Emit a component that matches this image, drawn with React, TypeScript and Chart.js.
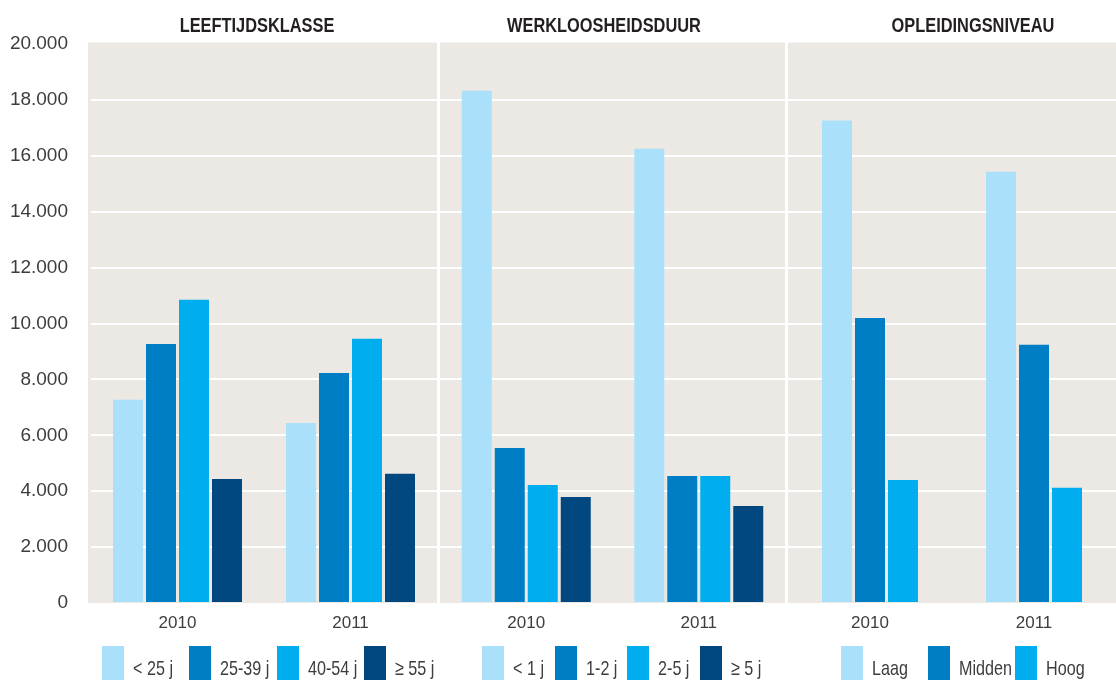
import React, { useEffect, useRef } from "react";
import { Chart, registerables } from "chart.js";

Chart.register(...registerables);

// ---------- data ----------
const years = ["2010", "2011"];
const panelTitles = ["LEEFTIJDSKLASSE", "WERKLOOSHEIDSDUUR", "OPLEIDINGSNIVEAU"];

const ageLabels = ["< 25 j", "25-39 j", "40-54 j", "≥ 55 j"];
const ageUnder25 = [7270, 6440];
const age25to39 = [9270, 8230];
const age40to54 = [10850, 9450];
const age55plus = [4440, 4620];

const durationLabels = ["< 1 j", "1-2 j", "2-5 j", "≥ 5 j"];
const durUnder1 = [18330, 16250];
const dur1to2 = [5550, 4540];
const dur2to5 = [4220, 4540];
const dur5plus = [3790, 3470];

const eduLabels = ["Laag", "Midden", "Hoog"];
const eduLow = [17260, 15430];
const eduMid = [10200, 9240];
const eduHigh = [4400, 4120];

const yMin = 0;
const yMax = 20000;
const yStep = 2000;

// ---------- styles ----------
const COLORS = ["#aae0fa", "#007ec5", "#00aeef", "#00487f"];
const PLOT_BG = "#ece9e4";
const TEXT = "#3d3d3d";
const FONT = '"Liberation Sans", Arial, sans-serif';

const H = 680;
const PLOT_TOP = 44;
const X_AXIS_H = 77;
const BAR_W = 30;
const BAR_GAP = 3;

const fmt = (v: number) => String(Math.round(v)).replace(/\B(?=(\d{3})+(?!\d))/g, ".");

const bgPlugin = {
  id: "plotBg",
  beforeDraw(chart: any, _args: any, opts: any) {
    const { ctx, chartArea } = chart;
    const extra = (opts && opts.extraLeft) || 0;
    ctx.save();
    ctx.fillStyle = PLOT_BG;
    ctx.fillRect(
      chartArea.left - extra,
      chartArea.top - 1.5,
      chartArea.right - chartArea.left + extra,
      chartArea.bottom - chartArea.top + 1.5
    );
    ctx.restore();
  },
};

type PanelProps = {
  left: number;
  width: number;
  axisWidth: number;
  showY: boolean;
  series: number[][];
  names: string[];
};

function Panel({ left, width, axisWidth, showY, series, names }: PanelProps) {
  const ref = useRef<HTMLCanvasElement | null>(null);
  useEffect(() => {
    const n = series.length;
    const catWidth = (width - axisWidth) / years.length;
    const chunk = BAR_W + BAR_GAP;
    const chart = new Chart(ref.current as HTMLCanvasElement, {
      type: "bar",
      data: {
        labels: years,
        datasets: series.map((d, i) => ({
          label: names[i],
          data: d,
          backgroundColor: COLORS[i],
          borderWidth: 0,
          categoryPercentage: (chunk * n) / catWidth,
          barPercentage: BAR_W / chunk,
        })),
      },
      options: {
        animation: false,
        responsive: true,
        maintainAspectRatio: false,
        layout: { padding: { top: PLOT_TOP, left: 0, right: 0, bottom: 0 } },
        plugins: {
          legend: { display: false },
          title: { display: false },
          tooltip: { enabled: false },
          plotBg: { extraLeft: showY ? 3 : 0 },
        } as any,
        scales: {
          x: {
            border: { display: false },
            grid: { display: false, drawTicks: false },
            ticks: {
              color: TEXT,
              font: { family: FONT, size: 17 },
              padding: 10,
            },
            afterFit: (s: any) => {
              s.height = X_AXIS_H;
            },
          },
          y: {
            min: yMin,
            max: yMax,
            border: { display: false },
            grid: {
              drawTicks: false,
              lineWidth: 2,
              color: (c: any) =>
                c.tick && (c.tick.value === yMin || c.tick.value === yMax)
                  ? "rgba(0,0,0,0)"
                  : "#ffffff",
            },
            ticks: {
              display: showY,
              stepSize: yStep,
              color: TEXT,
              font: { family: FONT, size: 19 },
              padding: 23,
              callback: (v: any) => fmt(Number(v)),
            },
            afterFit: (s: any) => {
              s.width = axisWidth;
            },
          },
        },
      },
      plugins: [bgPlugin],
    });
    return () => chart.destroy();
  }, []);
  return (
    <div style={{ position: "absolute", left, top: 0, width, height: H }}>
      <canvas ref={ref} />
    </div>
  );
}

type LegendProps = { labels: string[]; start: number; step: number };
function Legend({ labels, start, step }: LegendProps) {
  return (
    <>
      {labels.map((l, i) => (
        <div
          key={l}
          style={{ position: "absolute", left: start + i * step, top: 646, height: 40, whiteSpace: "nowrap" }}
        >
          <div style={{ position: "absolute", left: 0, top: 0, width: 22, height: 40, background: COLORS[i] }} />
          <div
            style={{
              position: "absolute",
              left: 31,
              top: 11,
              fontFamily: FONT,
              fontSize: 21,
              lineHeight: "21px",
              color: TEXT,
              transform: "scaleX(0.77)",
              transformOrigin: "0 50%",
            }}
          >
            {l}
          </div>
        </div>
      ))}
    </>
  );
}

const titleCenters = [257, 604, 973];

export default function App() {
  return (
    <div
      style={{
        position: "absolute",
        left: 0,
        top: 0,
        width: 1116,
        height: H,
        overflow: "hidden",
        background: "#ffffff",
      }}
    >
      <Panel
        left={0}
        width={437}
        axisWidth={91}
        showY={true}
        series={[ageUnder25, age25to39, age40to54, age55plus]}
        names={ageLabels}
      />
      <Panel
        left={440}
        width={345}
        axisWidth={0}
        showY={false}
        series={[durUnder1, dur1to2, dur2to5, dur5plus]}
        names={durationLabels}
      />
      <Panel
        left={788}
        width={328}
        axisWidth={0}
        showY={false}
        series={[eduLow, eduMid, eduHigh]}
        names={eduLabels}
      />
      {panelTitles.map((t, i) => (
        <div
          key={t}
          style={{
            position: "absolute",
            left: titleCenters[i] - 200,
            width: 400,
            top: 14,
            textAlign: "center",
            fontFamily: FONT,
            fontWeight: "bold",
            fontSize: 21,
            lineHeight: "21px",
            color: "#231f20",
            transform: "scaleX(0.78)",
            transformOrigin: "50% 50%",
          }}
        >
          {t}
        </div>
      ))}
      <Legend labels={ageLabels} start={102} step={87.3} />
      <Legend labels={durationLabels} start={482} step={72.7} />
      <Legend labels={eduLabels} start={841} step={87} />
    </div>
  );
}
